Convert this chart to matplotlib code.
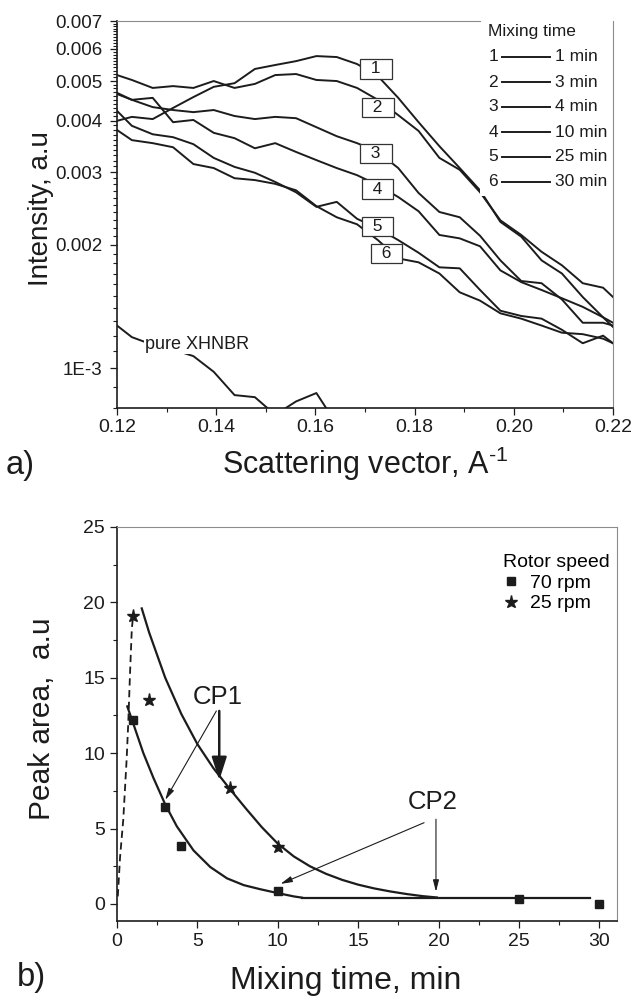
import matplotlib
matplotlib.use('Agg')
import matplotlib.pyplot as plt
from matplotlib.patches import Rectangle
from matplotlib.lines import Line2D
from matplotlib.ticker import FixedLocator, FixedFormatter, MultipleLocator, NullFormatter

plt.rcParams['font.family'] = ['Liberation Sans', 'DejaVu Sans']
plt.rcParams['mathtext.fontset'] = 'custom'
plt.rcParams['mathtext.rm'] = 'Liberation Sans'
plt.rcParams['mathtext.it'] = 'Liberation Sans:italic'
plt.rcParams['mathtext.default'] = 'regular'

# ---------------- panel a data ----------------
q = [0.1200, 0.1230, 0.1272, 0.1313, 0.1354, 0.1395, 0.1437, 0.1478, 0.1519, 0.1561,
     0.1602, 0.1643, 0.1684, 0.1726, 0.1767, 0.1808, 0.1850, 0.1891, 0.1932, 0.1973,
     0.2015, 0.2056, 0.2097, 0.2139, 0.2180, 0.2200]
I1 = [0.00400, 0.00409, 0.00404, 0.00430, 0.00457, 0.00484, 0.00494, 0.00535, 0.00547, 0.00559,
      0.00575, 0.00572, 0.00550, 0.00514, 0.00455, 0.00397, 0.00347, 0.00307, 0.00271, 0.00227,
      0.00209, 0.00183, 0.00170, 0.00149, 0.00133, 0.00126]
I2 = [0.00517, 0.00503, 0.00481, 0.00486, 0.00481, 0.00500, 0.00481, 0.00492, 0.00517, 0.00520,
      0.00503, 0.00500, 0.00481, 0.00450, 0.00413, 0.00378, 0.00325, 0.00304, 0.00268, 0.00229,
      0.00211, 0.00192, 0.00178, 0.00161, 0.00157, 0.00149]
I3 = [0.00465, 0.00450, 0.00432, 0.00425, 0.00420, 0.00425, 0.00411, 0.00404, 0.00409, 0.00406,
      0.00386, 0.00367, 0.00353, 0.00336, 0.00307, 0.00267, 0.00240, 0.00233, 0.00210, 0.00183,
      0.00163, 0.00161, 0.00147, 0.00129, 0.00129, 0.00127]
I4 = [0.00468, 0.00450, 0.00455, 0.00397, 0.00402, 0.00374, 0.00363, 0.00343, 0.00353, 0.00336,
      0.00321, 0.00307, 0.00295, 0.00279, 0.00261, 0.00241, 0.00211, 0.00207, 0.00198, 0.00173,
      0.00162, 0.00155, 0.00148, 0.00141, 0.00133, 0.00129]
I5 = [0.00423, 0.00389, 0.00371, 0.00365, 0.00351, 0.00325, 0.00309, 0.00299, 0.00284, 0.00268,
      0.00247, 0.00254, 0.00231, 0.00219, 0.00205, 0.00191, 0.00176, 0.00175, 0.00155, 0.00138,
      0.00134, 0.00132, 0.00124, 0.00115, 0.00120, 0.00115]
I6 = [0.00380, 0.00359, 0.00353, 0.00345, 0.00314, 0.00307, 0.00290, 0.00287, 0.00281, 0.00271,
      0.00248, 0.00233, 0.00224, 0.00205, 0.00185, 0.00181, 0.00170, 0.00153, 0.00146, 0.00136,
      0.00132, 0.00127, 0.00122, 0.00121, 0.00118, 0.00115]
I_pure = [0.00127, 0.00119, 0.00114, 0.00111, 0.00107, 0.00098, 0.00086, 0.00085, 0.00077,
          0.00083, 0.00087, 0.00073]

curve_ids = ['1', '2', '3', '4', '5', '6']
mix_times = ['1 min', '3 min', '4 min', '10 min', '25 min', '30 min']
box_q = [0.1722, 0.1726, 0.1722, 0.1725, 0.1725, 0.1743]
box_I = [0.00535, 0.00431, 0.00333, 0.00273, 0.00221, 0.00190]

a_yticks = [0.001, 0.002, 0.003, 0.004, 0.005, 0.006, 0.007]
a_yticklabels = ['1E-3', '0.002', '0.003', '0.004', '0.005', '0.006', '0.007']
a_xticks = [0.12, 0.14, 0.16, 0.18, 0.20, 0.22]
a_xticklabels = ['0.12', '0.14', '0.16', '0.18', '0.20', '0.22']

# ---------------- panel b data ----------------
t70 = [1, 3, 4, 10, 25, 30]
area70 = [12.2, 6.45, 3.85, 0.88, 0.3, 0.0]
t25 = [1, 2, 7, 10]
area25 = [19.1, 13.5, 7.7, 3.8]

fit70_t = [0.64, 1.0, 1.64, 2.27, 3.0, 3.72, 4.76, 5.8, 6.84, 7.88, 8.9, 10.0, 11.0, 11.5]
fit70_a = [13.1, 12.0, 10.0, 8.35, 6.6, 5.15, 3.55, 2.45, 1.7, 1.25, 0.98, 0.72, 0.5, 0.42]
plateau_t = [11.5, 29.4]
plateau_a = [0.42, 0.42]
fit25_t = [1.54, 2.0, 3.0, 4.0, 5.0, 6.0, 7.0, 8.0, 9.0, 10.0, 11.0, 12.0, 13.0, 14.0,
           15.0, 16.0, 17.0, 18.0, 19.0, 19.9]
fit25_a = [19.6, 18.0, 15.0, 12.6, 10.6, 9.0, 7.65, 6.35, 5.1, 4.0, 3.15, 2.5, 2.0, 1.6,
           1.28, 1.03, 0.83, 0.66, 0.52, 0.43]
rise25_t = [0.05, 0.19, 0.39, 0.6, 0.7, 0.81, 0.92, 1.0]
rise25_a = [0.5, 3.1, 5.6, 9.6, 12.0, 15.3, 18.2, 19.1]

INK = '#1c1c1c'
GRAY = '#8c8c8c'

fig = plt.figure(figsize=(6.35, 9.99), dpi=100)

# ================= panel a =================
ax1 = fig.add_axes([117 / 635, 1 - 408 / 999, 496 / 635, 387 / 999])
ax1.set_yscale('log')
for I in (I1, I2, I3, I4, I5, I6):
    ax1.plot(q, I, color=INK, lw=1.4, zorder=2)
ax1.plot(q[:len(I_pure)], I_pure, color=INK, lw=1.4, zorder=2)
ax1.set_xlim(0.12, 0.22)
ax1.set_ylim(0.0008, 0.007)

ax1.yaxis.set_major_locator(FixedLocator(a_yticks))
ax1.yaxis.set_major_formatter(FixedFormatter(a_yticklabels))
ax1.yaxis.set_minor_locator(FixedLocator([k * 1e-4 for k in range(8, 71) if k % 10 != 0]))
ax1.yaxis.set_minor_formatter(NullFormatter())
ax1.xaxis.set_major_locator(FixedLocator(a_xticks))
ax1.xaxis.set_major_formatter(FixedFormatter(a_xticklabels))
ax1.xaxis.set_minor_locator(MultipleLocator(0.01))

ax1.tick_params(axis='both', which='major', direction='out', length=5, width=0.9,
                top=False, right=False, colors=INK)
ax1.tick_params(axis='both', which='minor', direction='out', length=2.8, width=0.8,
                top=False, right=False, colors=INK)
ax1.tick_params(axis='y', which='major', labelsize=13.5, pad=5.5)
ax1.tick_params(axis='x', which='major', labelsize=14, pad=3)

for s in ('left', 'bottom'):
    ax1.spines[s].set_linewidth(1.2)
    ax1.spines[s].set_color(INK)
for s in ('top', 'right'):
    ax1.spines[s].set_linewidth(0.8)
    ax1.spines[s].set_color(GRAY)
ax1.spines['top'].set_bounds(0.12, 0.1932)

# boxed curve numbers
for cid, bq, bi in zip(curve_ids, box_q, box_I):
    ax1.text(bq, bi, '\u2002' + cid + '\u2002', ha='center', va='center', fontsize=12.5,
             color=INK, zorder=4,
             bbox=dict(boxstyle='square,pad=0.12', fc='white', ec='#333333', lw=0.9))

ax1.text(0.12565, 0.001141, 'pure XHNBR', fontsize=13, ha='left', va='center', color=INK,
         zorder=4, bbox=dict(boxstyle='square,pad=0.05', fc='white', ec='none'))

# legend (manual, Origin style)
ax1.add_patch(Rectangle((0.732, 0.548), 0.268, 0.452, transform=ax1.transAxes,
                        facecolor='white', edgecolor='none', zorder=2.3, clip_on=False))
ax1.text(0.748, 0.9716, 'Mixing time', transform=ax1.transAxes, fontsize=12.5,
         ha='left', va='center', color=INK, zorder=5)
row_y = [0.907, 0.842, 0.778, 0.713, 0.649, 0.584]
for cid, lab, ry in zip(curve_ids, mix_times, row_y):
    ax1.text(0.7586, ry, cid, transform=ax1.transAxes, fontsize=12.5, ha='center',
             va='center', color=INK, zorder=5)
    ax1.add_line(Line2D([0.7756, 0.873], [ry, ry], transform=ax1.transAxes, color=INK,
                        lw=1.4, zorder=5))
    ax1.text(0.883, ry, lab, transform=ax1.transAxes, fontsize=12.5, ha='left',
             va='center', color=INK, zorder=5)

ax1.set_ylabel('Intensity, a.u', fontsize=20, color=INK)
ax1.yaxis.set_label_coords(-0.128, 0.515)
ax1.set_xlabel(r'Scattering vector, A$^{\text{-}1}$', fontsize=22, color=INK, va='top')
ax1.xaxis.set_label_coords(0.5, -0.0956)

fig.text(6 / 635, 1 - 450 / 999, 'a)', fontsize=23.5, va='top', ha='left', color=INK)

# ================= panel b =================
ax2 = fig.add_axes([117 / 635, 1 - 921 / 999, 500 / 635, 394 / 999])
ax2.plot(fit70_t, fit70_a, color=INK, lw=1.6, zorder=2)
ax2.plot(plateau_t, plateau_a, color=INK, lw=1.6, zorder=2)
ax2.plot(fit25_t, fit25_a, color=INK, lw=1.6, zorder=2)
ax2.plot(rise25_t, rise25_a, color=INK, lw=1.3, ls=(0, (4, 2.5)), zorder=2)
ax2.plot(t70, area70, ls='none', marker='s', ms=6, color=INK, zorder=3)
ax2.plot(t25, area25, ls='none', marker='*', ms=9.5, color=INK, zorder=3)
ax2.set_xlim(0, 31.1)
ax2.set_ylim(-1.13, 25)

ax2.xaxis.set_major_locator(MultipleLocator(5))
ax2.xaxis.set_minor_locator(MultipleLocator(2.5))
ax2.yaxis.set_major_locator(MultipleLocator(5))
ax2.yaxis.set_minor_locator(MultipleLocator(2.5))
ax2.tick_params(axis='both', which='major', direction='out', length=5, width=0.9,
                top=False, right=False, labelsize=14, pad=3.5, colors=INK)
ax2.tick_params(axis='both', which='minor', direction='out', length=2.8, width=0.8,
                top=False, right=False, colors=INK)
for s in ('left', 'bottom'):
    ax2.spines[s].set_linewidth(1.2)
    ax2.spines[s].set_color(INK)
for s in ('top', 'right'):
    ax2.spines[s].set_linewidth(0.8)
    ax2.spines[s].set_color(GRAY)

# annotations
ax2.text(6.27, 13.7, 'CP1', fontsize=18.5, ha='center', va='center', color=INK)
ax2.annotate('', xy=(3.0, 6.9), xytext=(6.18, 12.8),
             arrowprops=dict(arrowstyle='-|>,head_length=0.7,head_width=0.18', lw=0.8,
                             color=INK, shrinkA=0, shrinkB=0))
ax2.annotate('', xy=(6.36, 8.2), xytext=(6.36, 12.8),
             arrowprops=dict(arrowstyle='-|>,head_length=1.4,head_width=0.45', lw=1.8,
                             color=INK, shrinkA=0, shrinkB=0))
ax2.text(19.65, 6.73, 'CP2', fontsize=18.5, ha='center', va='center', color=INK)
ax2.annotate('', xy=(10.17, 1.33), xytext=(19.1, 5.39),
             arrowprops=dict(arrowstyle='-|>,head_length=0.7,head_width=0.18', lw=0.8,
                             color=INK, shrinkA=0, shrinkB=0))
ax2.annotate('', xy=(19.84, 0.81), xytext=(19.84, 5.62),
             arrowprops=dict(arrowstyle='-|>,head_length=0.7,head_width=0.18', lw=0.8,
                             color=INK, shrinkA=0, shrinkB=0))

# legend
handles = [Line2D([], [], ls='none', marker='s', ms=6, color=INK),
           Line2D([], [], ls='none', marker='*', ms=9.5, color=INK)]
leg = ax2.legend(handles, ['70 rpm', '25 rpm'], title='Rotor speed', loc='upper left',
                 bbox_to_anchor=(0.745, 0.965), frameon=False, fontsize=14,
                 title_fontsize=14, handlelength=0.8, handletextpad=0.6,
                 labelspacing=0.15, borderpad=0.2, alignment='left')

ax2.set_ylabel('Peak area,  a.u', fontsize=21.5, color=INK)
ax2.yaxis.set_label_coords(-0.122, 0.513)
ax2.set_xlabel('Mixing time, min', fontsize=23, color=INK, va='top')
ax2.xaxis.set_label_coords(0.457, -0.114)

fig.text(17 / 635, 1 - 962 / 999, 'b)', fontsize=23.5, va='top', ha='left', color=INK)

fig.savefig('out.png', dpi=100, facecolor='white')
